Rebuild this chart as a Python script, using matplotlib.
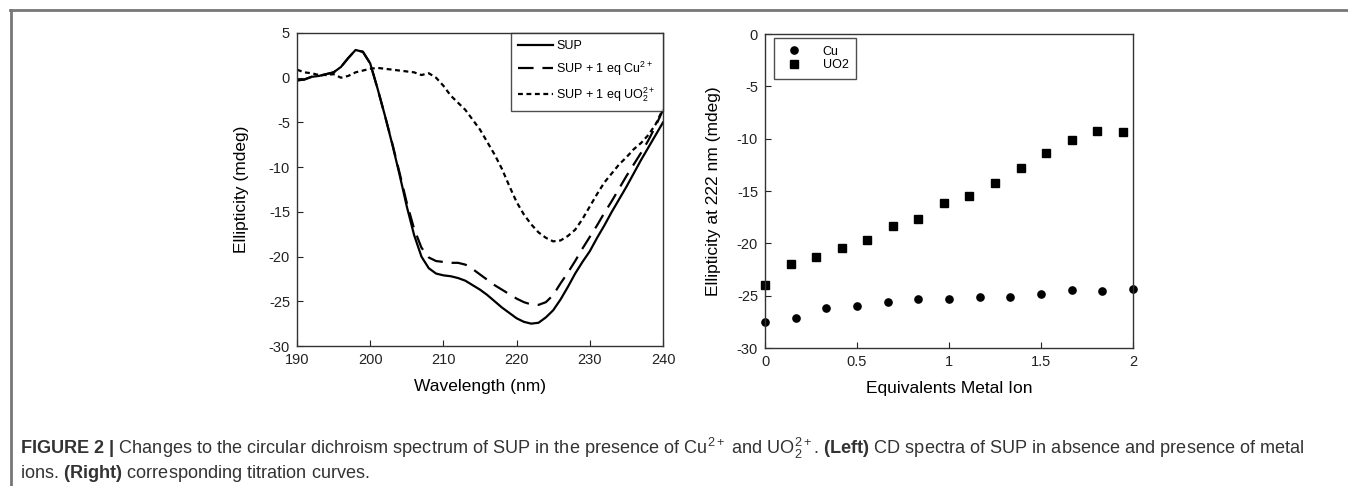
import numpy as np
import matplotlib
matplotlib.use('Agg')
import matplotlib.pyplot as plt
from matplotlib.lines import Line2D

plt.rcParams['font.family'] = ['Liberation Sans', 'DejaVu Sans']
plt.rcParams['mathtext.fontset'] = 'custom'
plt.rcParams['mathtext.rm'] = 'Liberation Sans'
plt.rcParams['mathtext.bf'] = 'Liberation Sans:bold'
plt.rcParams['mathtext.it'] = 'Liberation Sans:italic'
plt.rcParams['axes.unicode_minus'] = False

# CD spectra (left panel), 1 nm steps
wavelength = np.arange(190, 241)
sup = [-0.3, -0.2, 0.1, 0.2, 0.4, 0.6, 1.2, 2.2, 3.1, 2.9,
       1.6, -1.2, -4.2, -7.4, -10.8, -14.4, -17.6, -20.0, -21.3, -21.9,
       -22.1, -22.2, -22.4, -22.7, -23.2, -23.7, -24.3, -25.0, -25.7, -26.3,
       -26.9, -27.3, -27.5, -27.4, -26.8, -26.0, -24.8, -23.4, -21.9, -20.6,
       -19.4, -17.9, -16.5, -15.0, -13.6, -12.2, -10.7, -9.2, -7.8, -6.4,
       -5.0]
sup_cu = [-0.3, -0.2, 0.1, 0.2, 0.4, 0.6, 1.2, 2.2, 3.1, 2.9,
          1.6, -1.2, -4.2, -7.3, -10.6, -14.0, -16.9, -19.0, -20.1, -20.5,
          -20.6, -20.7, -20.7, -20.9, -21.4, -22.0, -22.6, -23.2, -23.7, -24.2,
          -24.7, -25.1, -25.35, -25.4, -25.1, -24.3, -23.0, -21.8, -20.5, -19.1,
          -17.8, -16.5, -15.1, -13.8, -12.4, -11.0, -9.7, -8.4, -7.0, -5.4,
          -3.6]
sup_uo2 = [0.9, 0.6, 0.5, 0.3, 0.3, 0.4, 0.0, 0.2, 0.6, 0.8,
           1.0, 1.1, 1.0, 0.9, 0.8, 0.7, 0.6, 0.3, 0.5, 0.0,
           -0.9, -2.0, -2.8, -3.6, -4.7, -5.8, -7.2, -8.6, -10.2, -12.1,
           -13.9, -15.3, -16.4, -17.3, -17.9, -18.3, -18.2, -17.7, -17.0, -15.8,
           -14.4, -13.0, -11.7, -10.7, -9.7, -8.9, -8.0, -7.3, -6.4, -5.2,
           -3.5]

# titration (right panel)
cu_eq = [0, 0.167, 0.333, 0.5, 0.667, 0.833, 1.0, 1.167, 1.333, 1.5, 1.667, 1.833, 2.0]
cu_ell = [-27.5, -27.1, -26.2, -26.0, -25.6, -25.3, -25.3, -25.1, -25.1, -24.8, -24.5, -24.6, -24.4]
uo2_eq = [0, 0.139, 0.278, 0.417, 0.556, 0.694, 0.833, 0.972, 1.111, 1.25, 1.389,
          1.528, 1.667, 1.806, 1.944]
uo2_ell = [-24.0, -22.0, -21.3, -20.4, -19.7, -18.3, -17.7, -16.1, -15.5, -14.2, -12.85,
           -11.4, -10.1, -9.3, -9.4]

W, H = 1348, 486
fig = plt.figure(figsize=(W / 100, H / 100), dpi=100)


def px_axes(x0, y0, x1, y1):
    return fig.add_axes([x0 / W, 1 - y1 / H, (x1 - x0) / W, (y1 - y0) / H])


def style(ax):
    ax.tick_params(direction='in', length=4, width=0.8, labelsize=10.5,
                   colors='#222222', pad=5)
    for s in ax.spines.values():
        s.set_linewidth(1.0)
        s.set_color('#333333')


# left panel
ax1 = px_axes(297, 33, 663, 346)
ax1.plot(wavelength, sup, color='black', lw=1.6, label='SUP')
ax1.plot(wavelength, sup_cu, color='black', lw=1.6, dashes=(7, 4),
         label='SUP + 1 eq Cu$^{2+}$')
ax1.plot(wavelength, sup_uo2, color='black', lw=1.6, dashes=(2.2, 1.6),
         label='SUP + 1 eq UO$_2^{2+}$')
ax1.set_xlim(190, 240)
ax1.set_ylim(-30, 5)
ax1.set_xticks(range(190, 241, 10))
ax1.set_yticks(range(-30, 6, 5))
ax1.set_xlabel('Wavelength (nm)', fontsize=12.5, labelpad=9)
ax1.set_ylabel('Ellipticity (mdeg)', fontsize=12.5, labelpad=14)
style(ax1)
leg1 = ax1.legend(loc='upper right', borderaxespad=0, fontsize=9,
                  frameon=True, fancybox=False, edgecolor='#222222',
                  handlelength=2.8, handletextpad=0.3, labelspacing=0.6,
                  borderpad=0.55)
leg1.get_frame().set_linewidth(1.0)

# right panel
ax2 = px_axes(765, 34, 1133, 348)
ax2.plot(cu_eq, cu_ell, 'o', color='black', ms=5.2, label='Cu', clip_on=False)
ax2.plot(uo2_eq, uo2_ell, 's', color='black', ms=5.2, label='UO2', clip_on=False)
ax2.set_xlim(0, 2)
ax2.set_ylim(-30, 0)
ax2.set_xticks([0, 0.5, 1, 1.5, 2])
ax2.set_xticklabels(['0', '0.5', '1', '1.5', '2'])
ax2.set_yticks(range(-30, 1, 5))
ax2.set_xlabel('Equivalents Metal Ion', fontsize=12.5, labelpad=9)
ax2.set_ylabel('Ellipticity at 222 nm (mdeg)', fontsize=12.5, labelpad=11.5)
style(ax2)
leg2 = ax2.legend(loc='upper left', bbox_to_anchor=(0.024, 0.987), borderaxespad=0,
                  fontsize=9, frameon=True, fancybox=False, edgecolor='#222222',
                  handletextpad=1.3, labelspacing=0.15, borderpad=0.6)
leg2.get_frame().set_linewidth(1.0)

# frame around figure
fig.add_artist(Line2D([10 / W, 1], [1 - 10.5 / H, 1 - 10.5 / H],
                      color='#777777', lw=2))
fig.add_artist(Line2D([10.5 / W, 10.5 / W], [0, 1 - 10.5 / H],
                      color='#777777', lw=2))

# caption
cap1 = (r'$\bf{FIGURE\ 2\ |}$ Changes to the circular dichroism spectrum of SUP in the '
        r'presence of Cu$^{2+}$ and UO$_2^{2+}$. $\bf{(Left)}$ CD spectra of SUP in '
        r'absence and presence of metal')
cap2 = r'ions. $\bf{(Right)}$ corresponding titration curves.'
fig.text(20 / W, 1 - 448 / H, cap1, fontsize=13.1, color='#333333', va='center')
fig.text(20 / W, 1 - 473 / H, cap2, fontsize=13.1, color='#333333', va='center')

fig.savefig('out.png', dpi=100, facecolor='white')
